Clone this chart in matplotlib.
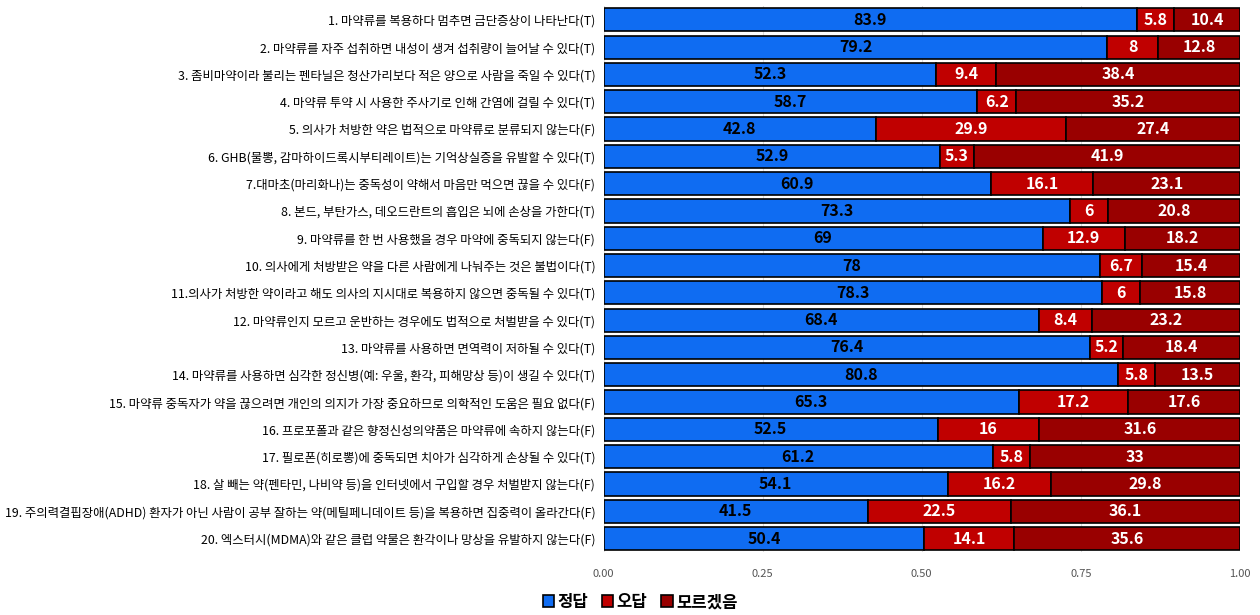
import matplotlib.pyplot as plt
import numpy as np

plt.rcParams['font.family'] = ['Noto Sans CJK KR', 'DejaVu Sans']

# 문항별 응답 비율 (%)
items = [
    '1. 마약류를 복용하다 멈추면 금단증상이 나타난다(T)',
    '2. 마약류를 자주 섭취하면 내성이 생겨 섭취량이 늘어날 수 있다(T)',
    '3. 좀비마약이라 불리는 펜타닐은 청산가리보다 적은 양으로 사람을 죽일 수 있다(T)',
    '4. 마약류 투약 시 사용한 주사기로 인해 간염에 걸릴 수 있다(T)',
    '5. 의사가 처방한 약은 법적으로 마약류로 분류되지 않는다(F)',
    '6. GHB(물뽕, 감마하이드록시부티레이트)는 기억상실증을 유발할 수 있다(T)',
    '7.대마초(마리화나)는 중독성이 약해서 마음만 먹으면 끊을 수 있다(F)',
    '8. 본드, 부탄가스, 데오드란트의 흡입은 뇌에 손상을 가한다(T)',
    '9. 마약류를 한 번 사용했을 경우 마약에 중독되지 않는다(F)',
    '10. 의사에게 처방받은 약을 다른 사람에게 나눠주는 것은 불법이다(T)',
    '11.의사가 처방한 약이라고 해도 의사의 지시대로 복용하지 않으면 중독될 수 있다(T)',
    '12. 마약류인지 모르고 운반하는 경우에도 법적으로 처벌받을 수 있다(T)',
    '13. 마약류를 사용하면 면역력이 저하될 수 있다(T)',
    '14. 마약류를 사용하면 심각한 정신병(예: 우울, 환각, 피해망상 등)이 생길 수 있다(T)',
    '15. 마약류 중독자가 약을 끊으려면 개인의 의지가 가장 중요하므로 의학적인 도움은 필요 없다(F)',
    '16. 프로포폴과 같은 향정신성의약품은 마약류에 속하지 않는다(F)',
    '17. 필로폰(히로뽕)에 중독되면 치아가 심각하게 손상될 수 있다(T)',
    '18. 살 빼는 약(펜타민, 나비약 등)을 인터넷에서 구입할 경우 처벌받지 않는다(F)',
    '19. 주의력결핍장애(ADHD) 환자가 아닌 사람이 공부 잘하는 약(메틸페니데이트 등)을 복용하면 집중력이 올라간다(F)',
    '20. 엑스터시(MDMA)와 같은 클럽 약물은 환각이나 망상을 유발하지 않는다(F)',
]
correct = [83.9, 79.2, 52.3, 58.7, 42.8, 52.9, 60.9, 73.3, 69, 78,
           78.3, 68.4, 76.4, 80.8, 65.3, 52.5, 61.2, 54.1, 41.5, 50.4]
wrong = [5.8, 8, 9.4, 6.2, 29.9, 5.3, 16.1, 6, 12.9, 6.7,
         6, 8.4, 5.2, 5.8, 17.2, 16, 5.8, 16.2, 22.5, 14.1]
unknown = [10.4, 12.8, 38.4, 35.2, 27.4, 41.9, 23.1, 20.8, 18.2, 15.4,
           15.8, 23.2, 18.4, 13.5, 17.6, 31.6, 33, 29.8, 36.1, 35.6]

series = [('정답', correct, '#0F6CF2', 'black'),
          ('오답', wrong, '#C00000', 'white'),
          ('모르겠음', unknown, '#990000', 'white')]

fig = plt.figure(figsize=(12.6, 6.15), dpi=100)
ax = fig.add_axes([0.479, 0.102, 0.505, 0.888])

y = np.arange(len(items))
left = np.zeros(len(items))
for name, vals, color, tcolor in series:
    v = np.array(vals) / 100
    ax.barh(y, v, left=left, height=0.85, color=color,
            edgecolor='black', linewidth=1.2, label=name, zorder=3)
    for yi, l, w, raw in zip(y, left, v, vals):
        ax.text(l + w / 2, yi, f'{raw:g}', ha='center', va='center',
                color=tcolor, fontsize=11.5, fontweight='bold', zorder=4)
    left += v

ax.set_xlim(0, 1)
ax.set_ylim(len(items) - 0.5, -0.5)
ax.set_yticks(y)
ax.set_yticklabels(items, fontsize=8.9)
ax.set_xticks([0, 0.25, 0.5, 0.75, 1.0])
ax.set_xticklabels(['0.00', '0.25', '0.50', '0.75', '1.00'], fontsize=8, color='#555555')
ax.tick_params(length=0, pad=6)
ax.tick_params(axis='x', pad=12)
ax.grid(axis='x', color='#dddddd', linewidth=0.8, zorder=0)
for s in ax.spines.values():
    s.set_visible(False)

fig.legend(*ax.get_legend_handles_labels(), loc='center', bbox_to_anchor=(0.508, 0.021),
           ncol=3, frameon=False, prop={'size': 12, 'weight': 'bold'},
           handlelength=0.7, handleheight=0.7,
           handletextpad=0.2, columnspacing=0.8, borderpad=0.1)

fig.savefig('out.png', dpi=100)
